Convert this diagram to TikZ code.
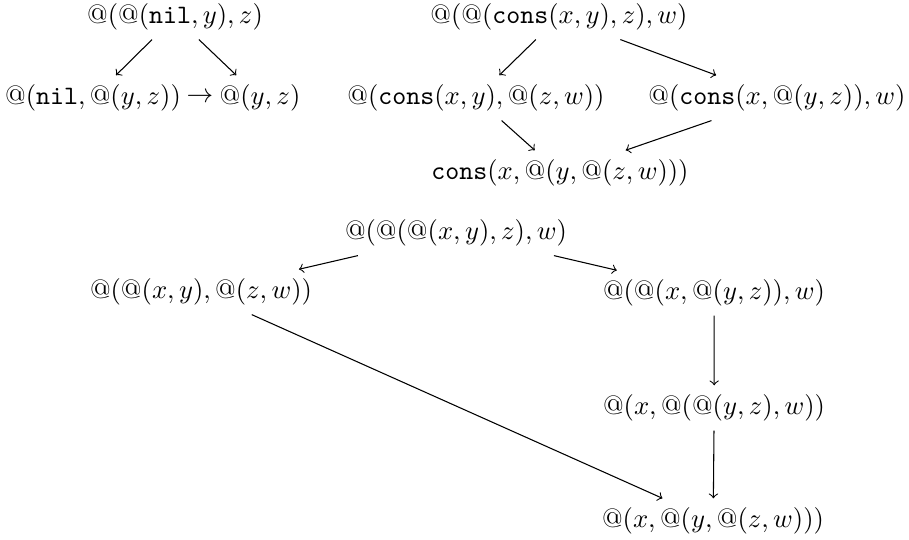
\documentclass[tikz,border=0pt]{standalone}
\usepackage{amsmath, amssymb}
\usetikzlibrary{arrows}

\tikzset{term/.style={inner sep=3.33pt}}

\begin{document}
\begin{tikzpicture}[>=to, scale = 1.322]
	\useasboundingbox (0,0) rectangle (9.09,5.40);
	%%%	Nil case
	\node[term] (nilz) at (1.75,5.23) {$@(@(\texttt{nil},y),z)$};
	\node[term] (nilr) at (0.93,4.42) {$@(\texttt{nil},@(y,z))$};
	\node (nilto) at (2.00,4.42) {$\to$};
	\node[term] (yz) at (2.60,4.42) {$@(y,z)$};
	\draw[->] (nilz) -- (nilr);
	\draw[->] (nilz) -- (yz);
	%%%	Cons case
	\node[term] (cons) at (5.59,5.23) {$@(@(\texttt{cons}(x,y),z),w)$};
	\node[term] (consl) at (4.76,4.42) {$@(\texttt{cons}(x,y),@(z,w))$};
	\node[term] (consr) at (7.77,4.42) {$@(\texttt{cons}(x,@(y,z)),w)$};
	\node[term] (consb) at (5.60,3.67) {$\texttt{cons}(x,@(y,@(z,w)))$};
	\draw[->] (cons) -- (consl);
	\draw[->] (cons) -- (consr);
	\draw[->] (consl) -- (consb);
	\draw[->] (consr) -- (consb);
	%%%	Variable case
	\node[term] (app) at (4.56,3.07) {$@(@(@(x,y),z),w)$};
	\node[term] (appl) at (2.01,2.48) {$@(@(x,y),@(z,w))$};
	\node[term] (appr) at (7.14,2.47) {$@(@(x,@(y,z)),w)$};
	\node[term] (appm) at (7.14,1.32) {$@(x,@(@(y,z),w))$};
	\node[term] (appb) at (7.13,0.19) {$@(x,@(y,@(z,w)))$};
	\draw[->] (app) -- (appl);
	\draw[->] (app) -- (appr);
	\draw[->] (appl) -- (appb);
	\draw[->] (appr) -- (appm);
	\draw[->] (appm) -- (appb);
\end{tikzpicture}
\end{document}
